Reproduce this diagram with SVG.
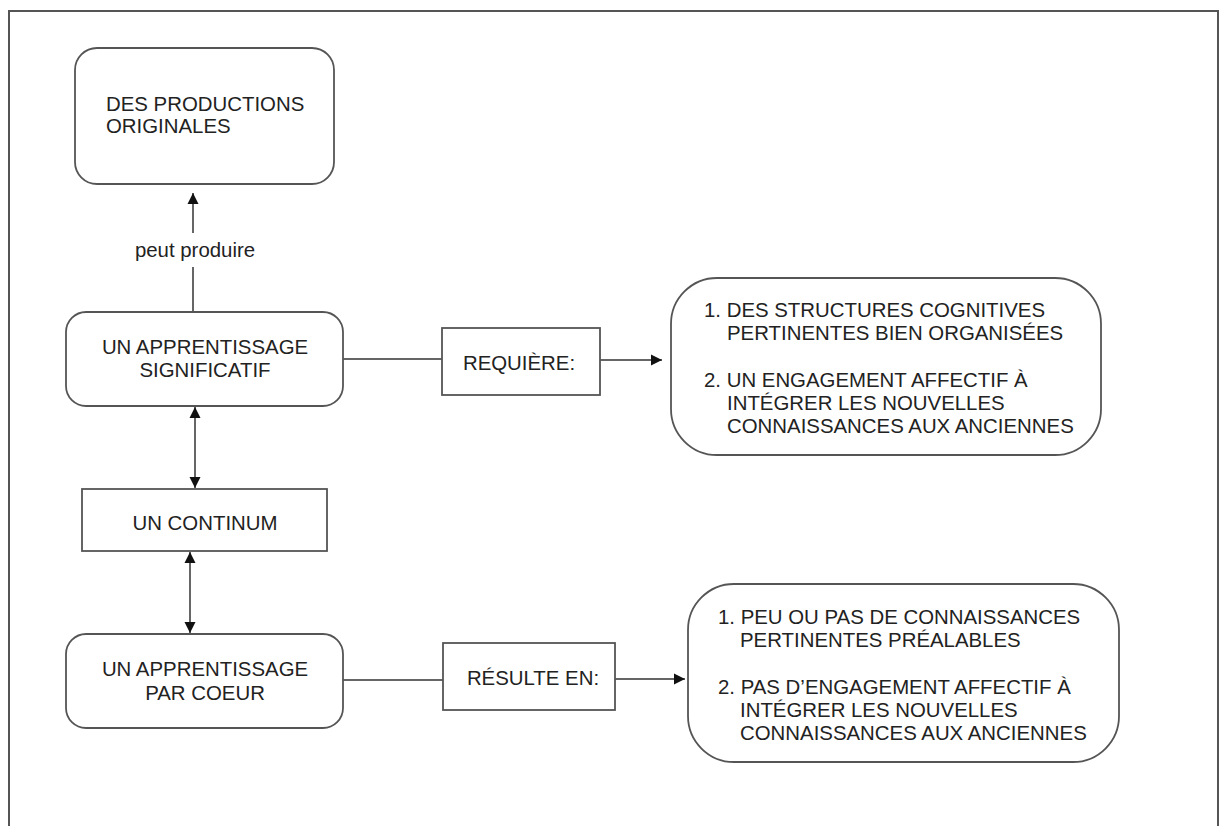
<svg xmlns="http://www.w3.org/2000/svg" width="1224" height="826" viewBox="0 0 1224 826">
<style>
.box{fill:#fff;stroke:#555;stroke-width:1.8}
.ln{fill:none;stroke:#333;stroke-width:1.5}
text{font-family:"Liberation Sans",Arial,sans-serif;font-size:20.4px;fill:#222}
.c{text-anchor:middle}
</style>
<defs>
<marker id="ah" viewBox="0 0 10 10" refX="10" refY="5" markerWidth="11" markerHeight="12" markerUnits="userSpaceOnUse" orient="auto-start-reverse">
<path d="M0,0 L10,5 L0,10 Z" fill="#111"/>
</marker>
</defs>
<rect x="0" y="0" width="1224" height="826" fill="#fff"/>
<path d="M9,840 V11 H1218 V840" fill="none" stroke="#555" stroke-width="2"/>
<g id="connectors">
<line class="ln" x1="193" y1="233" x2="193" y2="193" marker-end="url(#ah)"/>
<line class="ln" x1="193" y1="267" x2="193" y2="312"/>
<text class="c" x="195" y="257">peut produire</text>
<line class="ln" x1="195" y1="407" x2="195" y2="488" marker-start="url(#ah)" marker-end="url(#ah)"/>
<line class="ln" x1="190" y1="552" x2="190" y2="633" marker-start="url(#ah)" marker-end="url(#ah)"/>
<line class="ln" x1="343" y1="359" x2="442" y2="359"/>
<line class="ln" x1="600" y1="360" x2="662" y2="360" marker-end="url(#ah)"/>
<line class="ln" x1="343" y1="680" x2="443" y2="680"/>
<line class="ln" x1="615" y1="679" x2="685" y2="679" marker-end="url(#ah)"/>
</g>
<g id="productions">
<rect class="box" x="75" y="48" width="259" height="136" rx="22"/>
<text x="106" y="111">DES PRODUCTIONS</text>
<text x="106" y="133">ORIGINALES</text>
</g>
<g id="significatif">
<rect class="box" x="66" y="312" width="277" height="94" rx="20"/>
<text class="c" x="205" y="354">UN APPRENTISSAGE</text>
<text class="c" x="205" y="377">SIGNIFICATIF</text>
</g>
<g id="continuum">
<rect class="box" x="82" y="489" width="245" height="62"/>
<text class="c" x="205" y="530">UN CONTINUM</text>
</g>
<g id="parcoeur">
<rect class="box" x="66" y="634" width="277" height="94" rx="20"/>
<text class="c" x="205" y="676">UN APPRENTISSAGE</text>
<text class="c" x="205" y="700">PAR COEUR</text>
</g>
<g id="requiere">
<rect class="box" x="442" y="328" width="158" height="67"/>
<text class="c" x="519" y="370">REQUIÈRE:</text>
</g>
<g id="resulte">
<rect class="box" x="443" y="643" width="172" height="67"/>
<text class="c" x="533" y="685">RÉSULTE EN:</text>
</g>
<g id="requis">
<rect class="box" x="671" y="278" width="430" height="177" rx="46"/>
<text x="704" y="317">1. DES STRUCTURES COGNITIVES</text>
<text x="727" y="340">PERTINENTES BIEN ORGANISÉES</text>
<text x="704" y="387">2. UN ENGAGEMENT AFFECTIF À</text>
<text x="727" y="410">INTÉGRER LES NOUVELLES</text>
<text x="727" y="433">CONNAISSANCES AUX ANCIENNES</text>
</g>
<g id="resultats">
<rect class="box" x="688" y="584" width="431" height="178" rx="46"/>
<text x="718" y="624">1. PEU OU PAS DE CONNAISSANCES</text>
<text x="740" y="647">PERTINENTES PRÉALABLES</text>
<text x="718" y="694">2. PAS D’ENGAGEMENT AFFECTIF À</text>
<text x="740" y="717">INTÉGRER LES NOUVELLES</text>
<text x="740" y="740">CONNAISSANCES AUX ANCIENNES</text>
</g>
</svg>
